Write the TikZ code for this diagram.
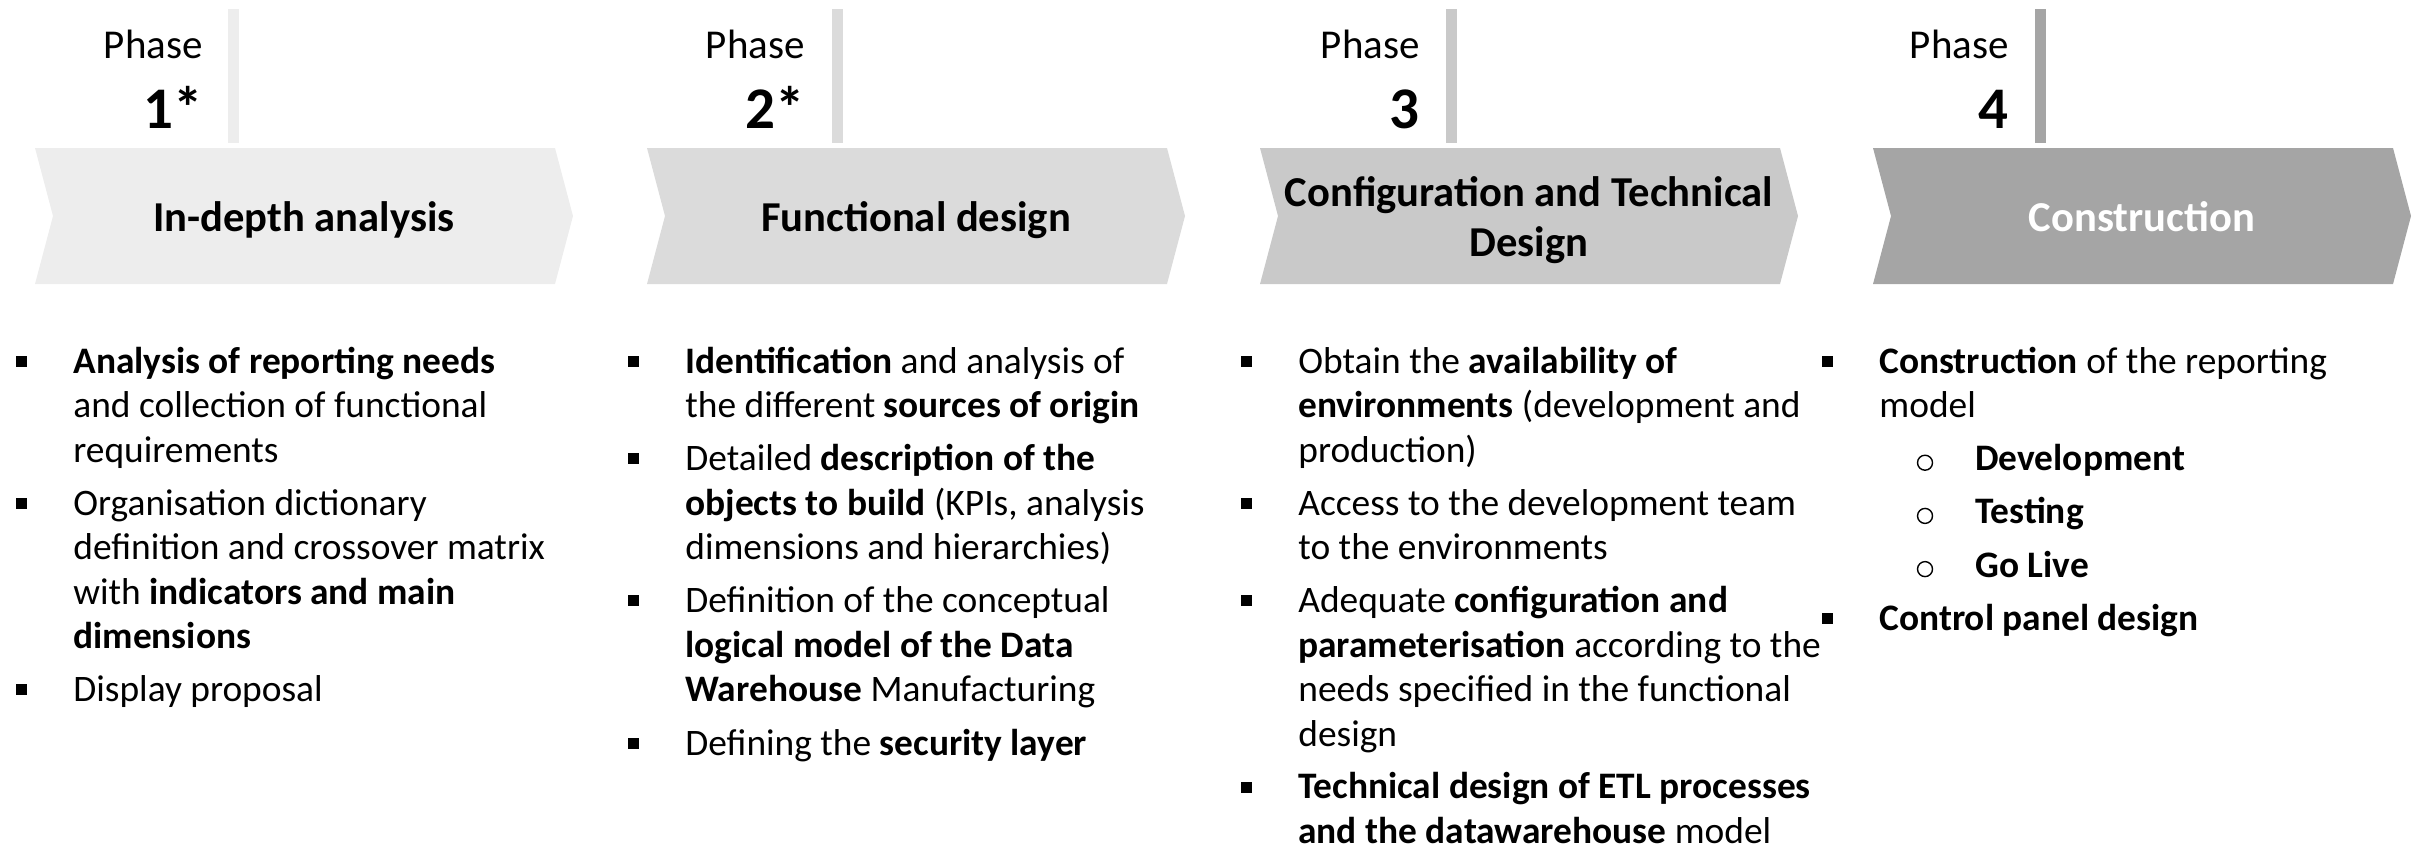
\documentclass[tikz,border=0pt]{standalone}
\usepackage{fontspec}
\setmainfont{Carlito}
\usepackage{xcolor}
\usepackage{tikz}
\definecolor{phA}{HTML}{EDEDED}
\definecolor{phB}{HTML}{DBDBDB}
\definecolor{phC}{HTML}{C9C9C9}
\definecolor{phD}{HTML}{A5A5A5}
\tikzset{
  phaselab/.style={anchor=base east, inner sep=0pt, font=\fontsize{20.5}{24}\selectfont},
  phasenum/.style={anchor=base east, inner sep=0pt, font=\fontsize{29.5}{34}\selectfont\bfseries},
  header/.style={anchor=base, inner sep=0pt, align=center, font=\fontsize{21.3}{25}\selectfont\bfseries},
  itemtext/.style={anchor=base west, inner sep=0pt, align=left, font=\fontsize{18.7}{22.25}\selectfont},
  sqmark/.style={rectangle, fill=black, inner sep=0pt, minimum size=5.5pt},
  ringmark/.style={circle, draw=black, line width=0.7pt, inner sep=0pt, minimum size=7.5pt},
}

\begin{document}
\begin{tikzpicture}[x=0.5pt,y=-0.5pt]
  \useasboundingbox (0,0) rectangle (2418,848);

  % phase chevrons
  \fill[phA] (35,148) -- ++(520,0) -- ++(18,68) -- ++(-18,68) -- ++(-520,0) -- ++(18,-68) -- cycle;
  \fill[phB] (647,148) -- ++(520,0) -- ++(18,68) -- ++(-18,68) -- ++(-520,0) -- ++(18,-68) -- cycle;
  \fill[phC] (1260,148) -- ++(520,0) -- ++(18,68) -- ++(-18,68) -- ++(-520,0) -- ++(18,-68) -- cycle;
  \fill[phD] (1873,148) -- ++(520,0) -- ++(18,68) -- ++(-18,68) -- ++(-520,0) -- ++(18,-68) -- cycle;

  % bars
  \fill[phA] (228,9) rectangle (239,143);
  \fill[phB] (832,9) rectangle (843,143);
  \fill[phC] (1446,9) rectangle (1457,143);
  \fill[phD] (2035,9) rectangle (2046,143);

  \node[phaselab] (labA) at (203,58) {Phase};
  \node[phasenum] (numA) at (203,128) {1*};
  \node[phaselab] (labB) at (805,58) {Phase};
  \node[phasenum] (numB) at (805,128) {2*};
  \node[phaselab] (labC) at (1420,58) {Phase};
  \node[phasenum] (numC) at (1420,128) {3};
  \node[phaselab] (labD) at (2009,58) {Phase};
  \node[phasenum] (numD) at (2009,128) {4};

  % base of a multi-line node = its last line
  \node[header] (hdrA) at (304,231) {In-depth analysis};
  \node[header] (hdrB) at (916,231) {Functional design};
  \node[header] (hdrC) at (1529,256) {Configuration and Technical\\Design};
  \node[header,text=white] (hdrD) at (2142,231) {Construction};

  % column 1
  \node[itemtext] (colA1) at (73,462) {\textbf{Analysis of reporting needs}\\and collection of functional\\requirements};
  \node[itemtext] (colA2) at (73,648.7) {Organisation dictionary\\definition and crossover matrix\\with \textbf{indicators and main}\\\textbf{dimensions}};
  \node[itemtext] (colA3) at (73,701.9) {Display proposal};
  \node[sqmark] (sqA1) at (21,361) {};
  \node[sqmark] (sqA2) at (21,503.2) {};
  \node[sqmark] (sqA3) at (21,689.9) {};

  % column 2
  \node[itemtext] (colB1) at (685,417.5) {\textbf{Identification} and analysis of\\the different \textbf{sources of origin}};
  \node[itemtext] (colB2) at (685,559.7) {Detailed \textbf{description of the}\\\textbf{objects to build} (KPIs, analysis\\dimensions and hierarchies)};
  \node[itemtext] (colB3) at (685,701.9) {Definition of the conceptual\\\textbf{logical model of the Data}\\\textbf{Warehouse} Manufacturing};
  \node[itemtext] (colB4) at (685,755.1) {Defining the \textbf{security layer}};
  \node[sqmark] (sqB1) at (633,361) {};
  \node[sqmark] (sqB2) at (633,458.7) {};
  \node[sqmark] (sqB3) at (633,600.9) {};
  \node[sqmark] (sqB4) at (633,743.1) {};

  % column 3
  \node[itemtext] (colC1) at (1298,462) {Obtain the \textbf{availability of}\\\textbf{environments} (development and\\production)};
  \node[itemtext] (colC2) at (1298,559.7) {Access to the development team\\to the environments};
  \node[itemtext] (colC3) at (1298,746.4) {Adequate \textbf{configuration and}\\\textbf{parameterisation} according to the\\needs specified in the functional\\design};
  \node[itemtext,text depth=0pt] (colC4) at (1298,843) {\textbf{Technical design of ETL processes}\\\textbf{and the datawarehouse} model};
  \node[sqmark] (sqC1) at (1246,361) {};
  \node[sqmark] (sqC2) at (1246,503.2) {};
  \node[sqmark] (sqC3) at (1246,600.9) {};
  \node[sqmark] (sqC4) at (1246,787.6) {};

  % column 4
  \node[itemtext] (colD1) at (1879,417.5) {\textbf{Construction} of the reporting\\model};
  \node[itemtext] (subD1) at (1975,470.7) {\textbf{Development}};
  \node[itemtext] (subD2) at (1975,523.9) {\textbf{Testing}};
  \node[itemtext] (subD3) at (1975,577.1) {\textbf{Go Live}};
  \node[itemtext] (colD2) at (1879,630.3) {\textbf{Control panel design}};
  \node[sqmark] (sqD1) at (1827,361) {};
  \node[ringmark] (rgD1) at (1925,462.7) {};
  \node[ringmark] (rgD2) at (1925,515.9) {};
  \node[ringmark] (rgD3) at (1925,569.1) {};
  \node[sqmark] (sqD2) at (1827,618.3) {};
\end{tikzpicture}
\end{document}
